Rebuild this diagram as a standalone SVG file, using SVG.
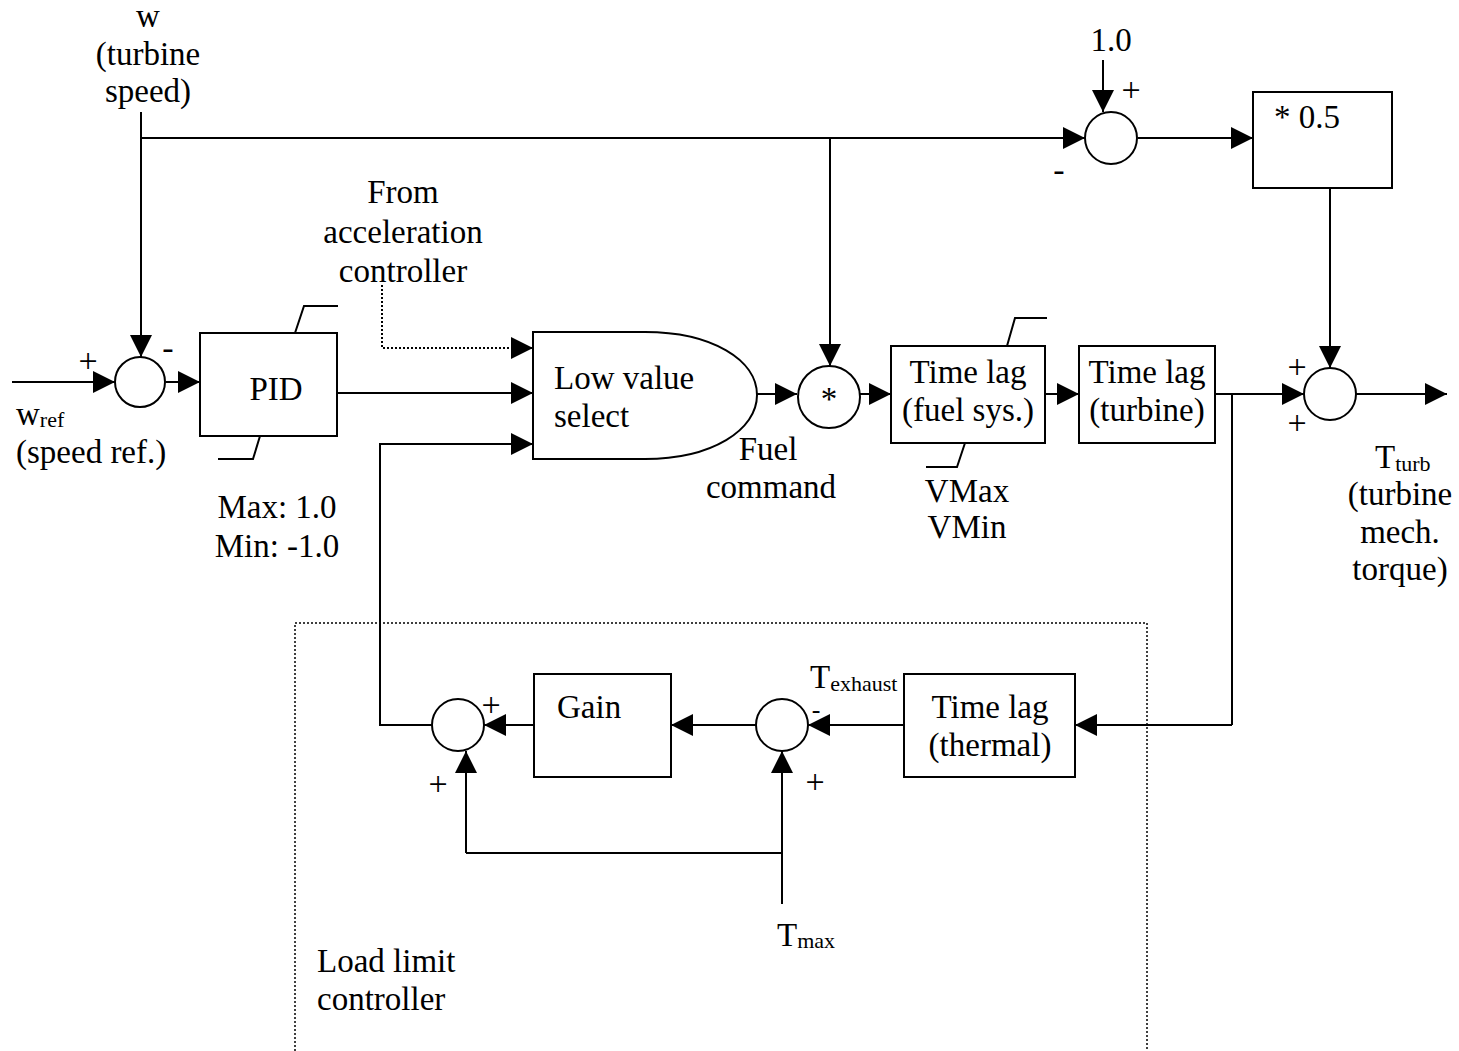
<svg xmlns="http://www.w3.org/2000/svg" width="1459" height="1051" viewBox="0 0 1459 1051">
<defs>
<marker id="arr" markerUnits="userSpaceOnUse" markerWidth="22" markerHeight="22" refX="20" refY="10" orient="auto" viewBox="0 0 20 20">
<path d="M0,0 L20,10 L0,20 Z" fill="#000"/>
</marker>
</defs>
<style>
text{font-family:"Liberation Serif","Times New Roman",serif;font-size:33px;fill:#000}
.sub{font-size:22px}
.sign{font-size:34px}
.sm{font-size:26px}
.c{text-anchor:middle}
.blk{fill:#fff;stroke:#000;stroke-width:2}
.ln{fill:none;stroke:#000;stroke-width:2}
.a{marker-end:url(#arr)}
.dot{stroke-dasharray:2 2}
.frame{fill:none;stroke:#000;stroke-width:1.5;stroke-dasharray:2 2}
</style>
<rect width="1459" height="1051" fill="#fff"/>

<g id="connectors" class="ln">
<path class="a" d="M141,112 V357"/>
<path d="M141,138 H830"/>
<path class="a" d="M830,138 H1085"/>
<path class="a" d="M830,138 V366"/>
<path class="a" d="M1103,60 V112"/>
<path class="a" d="M1138,138 H1253"/>
<path class="a" d="M1330,188 V368"/>
<path class="a" d="M1356,394 H1447"/>
<path class="a" d="M12,382 H115"/>
<path class="a" d="M166,382 H200"/>
<path class="a" d="M329,393 H533"/>
<path class="a dot" d="M382,285 V348 H533"/>
<path class="a" d="M432,725 H380 V444 H533"/>
<path class="a" d="M757,394 H797"/>
<path class="a" d="M860,394 H891"/>
<path class="a" d="M1045,394 H1079"/>
<path class="a" d="M1215,394 H1304"/>
<path d="M1232,394 V725"/>
<path class="a" d="M1232,725 H1075"/>
<path class="a" d="M534,725 H484"/>
<path class="a" d="M756,725 H671"/>
<path class="a" d="M904,725 H808"/>
<path d="M782,904 V853 H466"/>
<path class="a" d="M466,853 V751"/>
<path class="a" d="M782,853 V751"/>
</g>

<g id="load-limit-frame">
<path class="frame" d="M295,1051 V623 H1147 V1051"/>
<text x="317" y="972">Load limit</text>
<text x="317" y="1010">controller</text>
</g>

<g id="labels">
<text class="c" x="148" y="27">w</text>
<text class="c" x="148" y="65">(turbine</text>
<text class="c" x="148" y="102">speed)</text>
<text class="c" x="403" y="203">From</text>
<text class="c" x="403" y="243">acceleration</text>
<text class="c" x="403" y="282">controller</text>
<text x="16" y="425">w<tspan class="sub" dy="2">ref</tspan></text>
<text x="16" y="463">(speed ref.)</text>
<text class="c" x="277" y="518">Max: 1.0</text>
<text class="c" x="277" y="557">Min: -1.0</text>
<text class="c" x="768" y="460">Fuel</text>
<text class="c" x="771" y="498">command</text>
<text class="c" x="967" y="502">VMax</text>
<text class="c" x="967" y="538">VMin</text>
<text class="c" x="1111" y="51">1.0</text>
<text x="1375" y="468">T<tspan class="sub" dy="3">turb</tspan></text>
<text class="c" x="1400" y="505">(turbine</text>
<text class="c" x="1400" y="543">mech.</text>
<text class="c" x="1400" y="580">torque)</text>
<text x="810" y="688">T<tspan class="sub" dy="3">exhaust</tspan></text>
<text x="777" y="946">T<tspan class="sub" dy="2">max</tspan></text>
<text class="sign c" x="88" y="372">+</text>
<text class="sign c" x="168" y="359">-</text>
<text class="sign c" x="1131" y="101">+</text>
<text class="sign c" x="1059" y="181">-</text>
<text class="sign c" x="1297" y="378">+</text>
<text class="sign c" x="1297" y="434">+</text>
<text class="sign c" x="491" y="716">+</text>
<text class="sign c" x="438" y="795">+</text>
<text class="sign sm c" x="816" y="718">-</text>
<text class="sign c" x="815" y="793">+</text>
</g>

<g id="sum-speed"><circle class="blk" cx="140" cy="382" r="25"/></g>

<g id="pid">
<rect class="blk" x="200" y="333" width="137" height="103"/>
<path class="ln" d="M295,333 L304,306 H338"/>
<path class="ln" d="M260,436 L253,459 H218"/>
<text class="c" x="276" y="400">PID</text>
</g>

<g id="low-value-select">
<path class="blk" d="M533,332 H645 C712,332 757,360 757,395 C757,430 712,459 645,459 H533 Z"/>
<text x="554" y="389">Low value</text>
<text x="554" y="427">select</text>
</g>

<g id="mult"><circle class="blk" cx="829" cy="397" r="31"/><text class="c" x="829" y="410">*</text></g>

<g id="lag-fuel">
<rect class="blk" x="891" y="346" width="154" height="97"/>
<path class="ln" d="M1007,346 L1015,318 H1047"/>
<path class="ln" d="M965,443 L957,467 H926"/>
<text class="c" x="968" y="383">Time lag</text>
<text class="c" x="968" y="421">(fuel sys.)</text>
</g>

<g id="lag-turbine">
<rect class="blk" x="1079" y="346" width="136" height="97"/>
<text class="c" x="1147" y="383">Time lag</text>
<text class="c" x="1147" y="421">(turbine)</text>
</g>

<g id="sum-one"><circle class="blk" cx="1111" cy="138" r="26"/></g>

<g id="half">
<rect class="blk" x="1253" y="92" width="139" height="96"/>
<text x="1274" y="128">* 0.5</text>
</g>

<g id="sum-torque"><circle class="blk" cx="1330" cy="394" r="26"/></g>

<g id="sum-limit"><circle class="blk" cx="458" cy="725" r="26"/></g>

<g id="gain">
<rect class="blk" x="534" y="674" width="137" height="103"/>
<text x="557" y="718">Gain</text>
</g>

<g id="sum-temp"><circle class="blk" cx="782" cy="725" r="26"/></g>

<g id="lag-thermal">
<rect class="blk" x="904" y="674" width="171" height="103"/>
<text class="c" x="990" y="718">Time lag</text>
<text class="c" x="990" y="756">(thermal)</text>
</g>
</svg>
